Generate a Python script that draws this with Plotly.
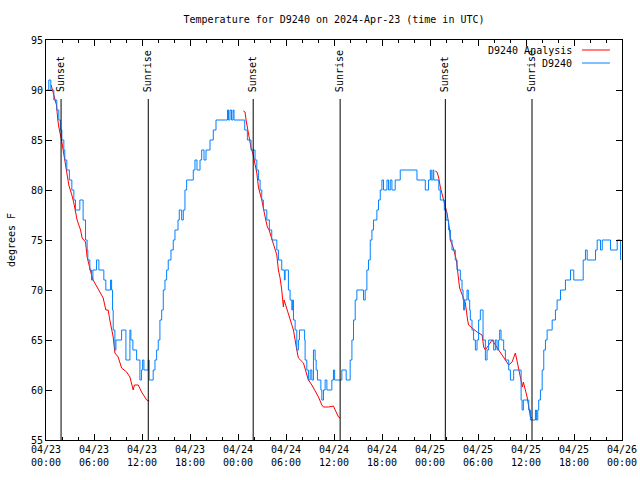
import pandas as pd
import plotly.graph_objects as go

START = pd.Timestamp("2024-04-23 00:00")

# Observed D9240 temperature: hours after 2024-04-23 00:00 UTC, degrees F
obs_hours = [0.10, 0.35, 0.60, 0.98, 1.35, 1.60, 1.79, 1.98, 2.23, 2.35, 2.60, 2.92, 3.23, 3.48, 3.69, 4.23, 4.64, 4.94, 5.14, 5.23,
             5.48, 5.69, 5.86, 6.32, 6.61, 7.23, 7.48, 8.07, 8.20, 8.32, 8.40, 8.61, 8.74, 9.45, 9.99, 10.49, 10.61, 10.86, 11.33, 11.74,
             11.93, 12.08, 12.24, 12.78, 12.90, 13.40, 13.62, 13.83, 14.03, 14.24, 14.46, 14.66, 14.87, 15.08, 15.28, 15.62, 15.91, 16.12, 16.50, 16.66,
             16.96, 17.16, 17.37, 17.58, 18.41, 18.62, 18.87, 19.25, 19.46, 19.75, 20.00, 20.50, 20.91, 21.25, 22.69, 22.82, 23.00, 23.19, 23.38, 23.50,
             24.84, 25.17, 25.63, 26.13, 26.35, 26.55, 26.76, 26.97, 27.17, 27.60, 27.92, 28.22, 28.85, 29.05, 29.47, 29.80, 29.89, 30.30, 30.51, 30.73,
             30.83, 30.93, 31.14, 31.35, 31.55, 31.68, 32.33, 32.39, 32.60, 32.80, 33.02, 33.23, 33.43, 33.64, 33.77, 33.93, 34.36, 34.48, 34.68, 34.89,
             35.11, 35.73, 35.93, 36.08, 36.98, 37.52, 38.02, 38.24, 38.44, 38.65, 38.86, 39.69, 39.90, 40.11, 40.31, 40.53, 40.74, 40.94, 41.36, 41.56,
             41.78, 41.99, 42.19, 42.62, 42.82, 43.03, 43.24, 43.65, 44.28, 46.37, 47.41, 47.82, 48.04, 48.16, 48.37, 48.47, 49.10, 49.29, 49.79, 50.00,
             50.33, 50.54, 50.75, 51.16, 51.38, 51.79, 52.00, 52.13, 52.20, 52.33, 52.63, 52.79, 52.96, 53.04, 53.25, 53.45, 53.67, 53.88, 54.08, 54.29,
             54.63, 54.92, 55.13, 55.33, 55.96, 56.17, 56.38, 56.58, 56.71, 56.88, 57.21, 57.42, 57.84, 58.05, 58.46, 59.39, 59.51, 59.67, 60.34, 60.55,
             61.18, 61.30, 61.47, 61.59, 61.80, 62.02, 62.22, 62.43, 62.64, 63.27, 63.68, 63.89, 64.31, 64.93, 65.56, 65.97, 67.15, 67.43, 67.65, 68.69,
             68.90, 69.31, 69.53, 70.56, 71.40, 71.82]
obs_temp = [90, 91, 90, 89, 88, 87, 86, 85, 84, 83, 82, 81, 80, 79, 78, 79, 77, 75, 74, 73,
            72, 71, 72, 73, 72, 71, 70, 71, 70, 68, 66, 64, 65, 66, 63, 66, 65, 64, 63, 61,
            62, 63, 62, 63, 61, 62, 63, 64, 65, 67, 68, 70, 71, 72, 73, 74, 75, 76, 77, 78,
            77, 78, 80, 81, 82, 83, 82, 83, 84, 83, 84, 85, 86, 87, 88, 87, 88, 87, 88, 87,
            86, 85, 84, 83, 82, 81, 80, 79, 78, 77, 76, 75, 74, 73, 72, 71, 72, 70, 69, 68,
            69, 67, 66, 64, 65, 66, 65, 63, 62, 61, 62, 61, 64, 63, 62, 61, 60, 59, 60, 61,
            60, 61, 62, 61, 62, 61, 63, 65, 67, 69, 70, 69, 70, 72, 73, 75, 76, 77, 78, 79,
            80, 81, 80, 81, 80, 81, 80, 81, 82, 81, 80, 81, 82, 81, 82, 81, 80, 79, 78, 77,
            76, 75, 74, 73, 72, 71, 70, 69, 68, 69, 70, 69, 68, 67, 66, 65, 64, 65, 67, 68,
            65, 63, 64, 65, 64, 65, 64, 65, 66, 65, 64, 63, 62, 61, 62, 59, 58, 59, 58, 57,
            58, 57, 58, 59, 60, 62, 64, 65, 66, 67, 68, 69, 70, 71, 72, 71, 73, 74, 73, 74,
            75, 74, 75, 74, 75, 73]

# D9240 Analysis, one list per night
ana1_hours = [0.64, 0.98, 1.31, 1.48, 1.60, 1.94, 2.32, 2.57, 2.85, 3.23, 3.48, 3.89, 4.32, 4.52, 4.94, 5.14, 5.36, 5.69, 5.89, 6.11,
              6.52, 6.73, 7.15, 7.48, 7.77, 7.98, 8.20, 8.40, 8.61, 9.02, 9.45, 10.08, 10.49, 10.70, 10.90, 11.05, 11.53, 11.95, 12.15, 12.58, 12.90]
ana1_temp = [90.5, 89.5, 88.5, 87.0, 86.3, 85.0, 83.0, 81.5, 80.5, 79.5, 78.7, 77.0, 76.0, 75.2, 74.8, 73.3, 72.5, 71.5, 71.0, 70.7,
             70.0, 69.8, 69.2, 68.0, 68.0, 67.0, 66.2, 65.3, 63.7, 63.3, 62.2, 61.8, 61.3, 60.7, 60.0, 60.5, 60.5, 59.8, 59.5, 59.0, 58.9]
ana2_hours = [24.67, 24.88, 25.01, 25.22, 25.42, 25.63, 25.85, 26.05, 26.35, 26.55, 26.76, 26.97, 27.47, 27.67, 27.89, 28.42, 28.85, 29.05, 29.26, 29.47,
              29.67, 29.76, 30.18, 30.43, 30.93, 31.35, 31.55, 32.18, 32.60, 32.80, 33.23, 33.77, 34.06, 34.48, 34.68, 35.31, 35.93, 36.15, 36.56, 36.77]
ana2_temp = [87.9, 87.8, 87.0, 86.0, 85.2, 84.2, 83.7, 83.0, 81.7, 80.3, 79.7, 79.0, 77.0, 76.3, 76.0, 74.7, 73.5, 72.0, 71.2, 70.0,
             68.3, 69.0, 68.0, 67.3, 66.0, 64.0, 63.2, 62.7, 61.5, 61.0, 60.5, 59.7, 59.3, 58.5, 58.3, 58.3, 58.4, 58.0, 57.3, 57.2]
ana3_hours = [48.66, 48.87, 49.07, 49.29, 49.70, 50.13, 50.45, 50.54, 50.88, 51.29, 51.70, 52.13, 52.42, 52.70, 52.83, 53.88, 54.51, 54.71, 54.92, 55.76,
              56.17, 56.58, 57.21, 57.84, 58.26, 58.67, 58.96, 59.30, 59.55, 59.67, 59.84, 60.14, 60.55, 60.76]
ana3_temp = [81.9, 81.8, 81.3, 80.3, 79.0, 77.7, 76.0, 75.0, 74.3, 73.0, 70.2, 69.3, 68.7, 67.0, 66.5, 65.8, 65.5, 64.3, 64.0, 65.0,
             64.5, 64.0, 63.3, 62.5, 62.8, 63.7, 62.6, 61.3, 60.3, 60.8, 60.3, 59.3, 57.3, 57.2]

sunset_times = ["2024-04-23 01:53", "2024-04-24 01:54", "2024-04-25 01:55"]
sunrise_times = ["2024-04-23 12:47", "2024-04-24 12:46", "2024-04-25 12:45"]

tick_times = pd.date_range("2024-04-23 00:00", "2024-04-26 00:00", freq="6h")
tick_labels = ["04/23<br>00:00", "04/23<br>06:00", "04/23<br>12:00", "04/23<br>18:00",
               "04/24<br>00:00", "04/24<br>06:00", "04/24<br>12:00", "04/24<br>18:00",
               "04/25<br>00:00", "04/25<br>06:00", "04/25<br>12:00", "04/25<br>18:00",
               "04/26<br>00:00"]

RED = "#ff0000"
BLUE = "#0080ff"
FONT = "DejaVu Sans Mono"


def to_time(hours):
    return START + pd.to_timedelta(pd.Series(hours), unit="h")


fig = go.Figure()
for h, v in [(ana1_hours, ana1_temp), (ana2_hours, ana2_temp), (ana3_hours, ana3_temp)]:
    fig.add_trace(go.Scatter(x=to_time(h), y=v, mode="lines", name="D9240 Analysis",
                             line=dict(color=RED, width=1), showlegend=False))
fig.add_trace(go.Scatter(x=to_time(obs_hours), y=obs_temp, mode="lines", name="D9240",
                         line=dict(color=BLUE, width=1, shape="hv"), showlegend=False))

line_top = 0.8525
for label, times in (("Sunset", sunset_times), ("Sunrise", sunrise_times)):
    for t in times:
        fig.add_shape(type="line", xref="x", yref="paper", x0=t, x1=t, y0=0, y1=line_top,
                      line=dict(color="black", width=1))
        fig.add_annotation(x=t, xref="x", y=line_top, yref="paper", text=label, textangle=-90,
                           showarrow=False, xanchor="center", yanchor="bottom", yshift=5,
                           font=dict(family=FONT, size=10, color="black"))

# gnuplot-style key: text right-aligned, sample line to the right
for name, color, yp in (("D9240 Analysis", RED, 0.975), ("D9240", BLUE, 0.9425)):
    fig.add_annotation(x=0.917, y=yp, xref="paper", yref="paper", text=name, showarrow=False,
                       xanchor="right", yanchor="middle", font=dict(family=FONT, size=10, color="black"))
    fig.add_shape(type="line", xref="paper", yref="paper", x0=0.9306, x1=0.979, y0=yp, y1=yp,
                  line=dict(color=color, width=1))

fig.update_layout(
    width=640, height=480,
    margin=dict(l=46, r=18, t=40, b=40, autoexpand=False),
    paper_bgcolor="white", plot_bgcolor="white",
    font=dict(family=FONT, size=10, color="black"),
    title=dict(text="Temperature for D9240 on 2024-Apr-23 (time in UTC)", x=0.5, xref="paper",
               y=1 - 19 / 480, yref="container", xanchor="center", yanchor="middle",
               font=dict(family=FONT, size=10, color="black")),
    showlegend=False,
)
fig.update_xaxes(range=[tick_times[0], tick_times[-1]], tickvals=tick_times, ticktext=tick_labels,
                 automargin=False,
                 showgrid=False, zeroline=False, showline=True, linecolor="black", linewidth=1,
                 mirror="allticks", ticks="inside", ticklen=6, tickcolor="black",
                 minor=dict(dtick=2 * 3600 * 1000, ticks="inside", ticklen=3, tickcolor="black", showgrid=False),
                 tickfont=dict(family=FONT, size=10, color="black"))
fig.update_yaxes(range=[55, 95], tickvals=[55, 60, 65, 70, 75, 80, 85, 90, 95],
                 automargin=False,
                 showgrid=False, zeroline=False, showline=True, linecolor="black", linewidth=1,
                 mirror="allticks", ticks="inside", ticklen=6, tickcolor="black",
                 tickfont=dict(family=FONT, size=10, color="black"),
                 title=dict(text="degrees F", standoff=13, font=dict(family=FONT, size=10, color="black")))

fig.write_html("out.html", config={"displayModeBar": False},
               post_script="document.body.style.margin='0';document.body.style.padding='0';")
